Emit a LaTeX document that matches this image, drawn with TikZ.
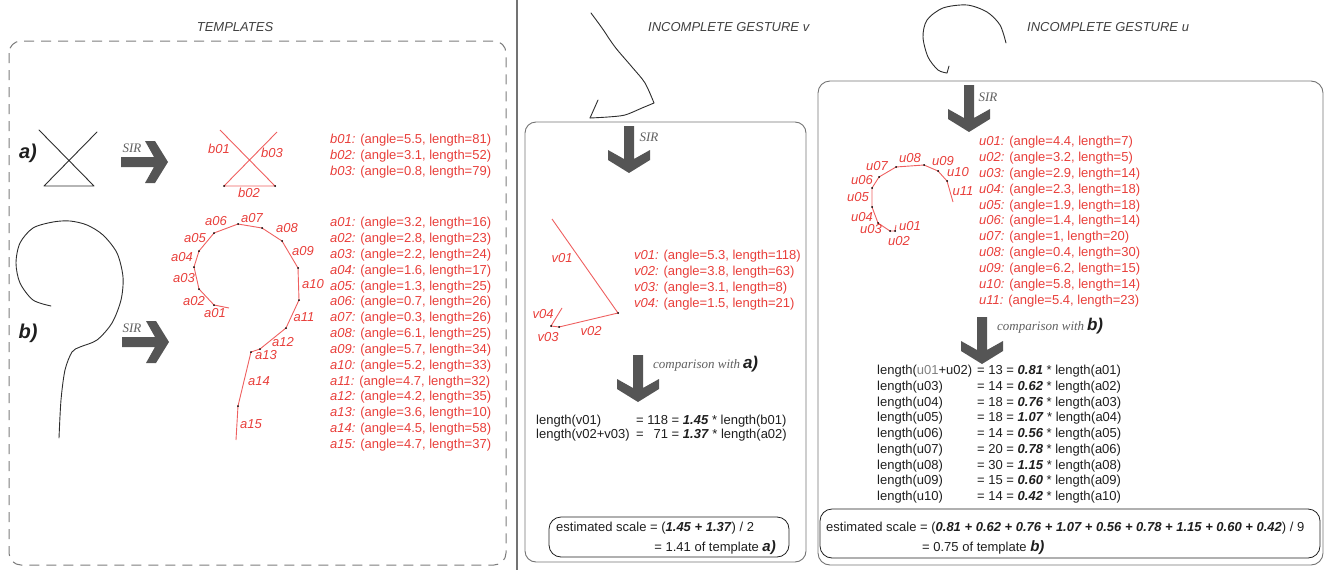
\documentclass[tikz,border=0pt]{standalone}
\usepackage{fontspec}
\setmainfont{Liberation Sans}
\newfontfamily\sirfont{Liberation Serif}
\usepackage{tikz}

\definecolor{segred}{RGB}{232,62,58}
\definecolor{seglinered}{RGB}{238,95,95}
\definecolor{pengray}{RGB}{45,45,45}
\definecolor{arrowgray}{RGB}{85,85,85}
\definecolor{framegray}{RGB}{115,115,115}
\definecolor{dashgray}{RGB}{125,125,125}
\definecolor{txtblack}{RGB}{30,30,30}
\definecolor{sirgray}{RGB}{95,95,95}

\newcommand{\infofont}{\fontsize{13}{15.85}\selectfont}
\newcommand{\bi}[1]{\textbf{\textit{#1}}}
\newcommand{\tmpl}[2]{{\fontsize{#2}{#2}\selectfont\bfseries\itshape #1}}

\tikzset{
  pen/.style={draw=pengray, line width=0.9pt, line cap=round, line join=round},
  segline/.style={draw=seglinered, line width=0.9pt},
  seglbl/.style={text=segred, font=\infofont\itshape, inner sep=0pt},
  info/.style={text=segred, font=\infofont, inner sep=0pt, anchor=base west},
  calcline/.style={text=txtblack, font=\infofont, inner sep=0pt, anchor=base west},
  headline/.style={text=txtblack!85, font=\infofont\itshape, inner sep=0pt},
  sir/.style={text=sirgray, font=\fontsize{13}{13}\selectfont\sirfont\itshape, inner sep=0pt},
  fatarrow/.pic={\fill[arrowgray] (-47,-5) -- (-14,-5) -- (-23,-21) -- (-13,-21) -- (0,0)
    -- (-13,21) -- (-23,21) -- (-14,5) -- (-47,5) -- cycle;},
}

\begin{document}
\begin{tikzpicture}[x=1pt, y=-1pt]
  \useasboundingbox (0,0) rectangle (1328,570);

  % Frames
  \draw[dashgray, line width=1pt, dash pattern=on 10pt off 7pt, rounded corners=12pt]
    (9,41) rectangle (506,565);
  \draw[framegray, line width=1.2pt] (517,0) -- (517,570);
  \draw[framegray, line width=0.9pt, rounded corners=11pt] (525,122) rectangle (806,562);
  \draw[framegray, line width=0.9pt, rounded corners=12pt] (818,81) rectangle (1323,565);

  % Headings
  \node[headline] (templates) at (235,27) {TEMPLATES};
  \node[headline, anchor=west] (titlev) at (648,27) {INCOMPLETE GESTURE v};
  \node[headline, anchor=west] (titleu) at (1027,27) {INCOMPLETE GESTURE u};
  \node[text=txtblack, inner sep=0pt] (taga) at (28,153) {\tmpl{a)}{20}};
  \node[text=txtblack, inner sep=0pt] (tagb) at (28,333) {\tmpl{b)}{20}};

  % Template a
  \draw[pen] (39,130) -- (94,186) -- (44,186) -- (97,132);
  \pic at (168,162) {fatarrow};
  \node[sir] (sira) at (132,148) {SIR};
  \draw[segline] (220,130) -- (275,186) -- (224,186) -- (277,132);
  \fill (224,186) circle (1pt);
  \fill (275,186) circle (1pt);
  \node[seglbl] (b01) at (219,149) {b01};
  \node[seglbl] (b03) at (272,153) {b03};
  \node[seglbl] (b02) at (249,193) {b02};
  \node[info] (blist) at (330,143.6) {\begin{tabular}[t]{@{}l@{}}
    \textit{b01:} (angle=5.5, length=81)\\
    \textit{b02:} (angle=3.1, length=52)\\
    \textit{b03:} (angle=0.8, length=79)
  \end{tabular}};

  % Template b
  \draw[pen] plot[smooth] coordinates {(51,306) (33,300) (20,283) (16,263) (20,243) (33,228)
    (53,222) (70,221) (87,225) (103,235) (117,253) (123,277) (121,300) (112,323) (97,340)
    (80,347) (72,352) (65,370) (61,400) (59,438)};
  \pic at (169,342) {fatarrow};
  \node[sir] (sirb) at (132,328) {SIR};
  \draw[segline] (229,308) -- (214,305) -- (199,289) -- (194,267) -- (199,251) -- (214,233)
    -- (238,224) -- (262,228) -- (282,241) -- (298,268) -- (299,300) -- (286,328) -- (260,349)
    -- (251,352) -- (238,406) -- (236,440);
  \foreach \x/\y in {214/305, 199/289, 194/267, 199/251, 214/233, 238/224, 262/228, 282/241,
    298/268, 299/300, 286/328, 260/349, 251/352, 238/406}
    \fill (\x,\y) circle (1pt);
  \foreach \n/\x/\y in {a01/215/313, a02/194/301, a03/184/278, a04/182/257, a05/195/238,
    a06/216/221, a07/252/218, a08/287/228, a09/303/251, a10/313/284, a11/304/317,
    a12/283/342, a13/266/355, a14/259/381, a15/251/424}
    \node[seglbl] (\n) at (\x,\y) {\n};
  \node[info] (alist) at (330,226.6) {\begin{tabular}[t]{@{}l@{}}
    \textit{a01:} (angle=3.2, length=16)\\
    \textit{a02:} (angle=2.8, length=23)\\
    \textit{a03:} (angle=2.2, length=24)\\
    \textit{a04:} (angle=1.6, length=17)\\
    \textit{a05:} (angle=1.3, length=25)\\
    \textit{a06:} (angle=0.7, length=26)\\
    \textit{a07:} (angle=0.3, length=26)\\
    \textit{a08:} (angle=6.1, length=25)\\
    \textit{a09:} (angle=5.7, length=34)\\
    \textit{a10:} (angle=5.2, length=33)\\
    \textit{a11:} (angle=4.7, length=32)\\
    \textit{a12:} (angle=4.2, length=35)\\
    \textit{a13:} (angle=3.6, length=10)\\
    \textit{a14:} (angle=4.5, length=58)\\
    \textit{a15:} (angle=4.7, length=37)
  \end{tabular}};

  % Incomplete gesture v
  \draw[pen] plot[smooth] coordinates {(591,13) (602,28) (615,47) (632,67) (645,83) (654,103)};
  \draw[pen] plot[smooth] coordinates {(654,103) (642,108) (625,115) (608,117) (590,118)};
  \draw[pen] (590,118) -- (598,100);
  \pic[rotate=-90] at (629,173) {fatarrow};
  \node[sir] (sirv) at (649,137) {SIR};
  \draw[segline] (552,219) -- (618,313) -- (559,327) -- (551,326) -- (562,308);
  \foreach \x/\y in {618/313, 559/327, 551/326}
    \fill (\x,\y) circle (1pt);
  \foreach \n/\x/\y in {v01/562/258, v02/591/331, v03/548/337, v04/543/314}
    \node[seglbl] (\n) at (\x,\y) {\n};
  \node[info] (vlist) at (634,259.6) {\begin{tabular}[t]{@{}l@{}}
    \textit{v01:} (angle=5.3, length=118)\\
    \textit{v02:} (angle=3.8, length=63)\\
    \textit{v03:} (angle=3.1, length=8)\\
    \textit{v04:} (angle=1.5, length=21)
  \end{tabular}};
  \pic[rotate=-90] at (638,402) {fatarrow};
  \node[anchor=base west, inner sep=0pt] (compa) at (653,368.5)
    {\textcolor{sirgray}{\fontsize{13}{13}\selectfont\sirfont\itshape comparison with} \textcolor{txtblack}{\tmpl{a)}{17}}};
  \node[calcline, font=\fontsize{13}{14}\selectfont] (vcalc) at (536,424)
    {\begin{tabular}[t]{@{}p{100pt}@{}l@{\ }r@{\ }l@{}}
    length(v01) & = & 118 & = \bi{1.45} * length(b01)\\
    length(v02+v03) & = & 71 & = \bi{1.37} * length(a02)
  \end{tabular}};
  \draw[txtblack, line width=0.8pt, rounded corners=12pt] (549,517) rectangle (789,557);
  \node[calcline] (vest) at (556,531.6) {estimated scale = (\bi{1.45 + 1.37}) / 2};
  \node[calcline, anchor=base east] (vres) at (776,551.6) {= 1.41 of template \tmpl{a)}{15}};

  % Incomplete gesture u
  \draw[pen] plot[smooth] coordinates {(1006,43) (1000,25) (987,12) (967,5) (943,8) (927,20)
    (923,37) (928,57) (938,70) (947,73)};
  \draw[pen] (947,73) -- (949,66);
  \pic[rotate=-90] at (969,132) {fatarrow};
  \node[sir] (siru) at (988,97) {SIR};
  \draw[segline] (896,225) -- (895,231) -- (890,231) -- (878,223) -- (872,207) -- (872,188)
    -- (879,177) -- (896,167) -- (924,165) -- (938,171) -- (947,181) -- (953,202);
  \foreach \x/\y in {895/231, 890/231, 878/223, 872/207, 872/188, 879/177, 896/167, 924/165,
    938/171, 947/181}
    \fill (\x,\y) circle (1pt);
  \foreach \n/\x/\y in {u01/910/226, u02/899/241, u03/871/229, u04/862/217, u05/858/197,
    u06/862/180, u07/877/166, u08/910/158, u09/943/161, u10/958/172, u11/963/191}
    \node[seglbl] (\n) at (\x,\y) {\n};
  \node[info] (ulist) at (979,145.6) {\begin{tabular}[t]{@{}l@{}}
    \textit{u01:} (angle=4.4, length=7)\\
    \textit{u02:} (angle=3.2, length=5)\\
    \textit{u03:} (angle=2.9, length=14)\\
    \textit{u04:} (angle=2.3, length=18)\\
    \textit{u05:} (angle=1.9, length=18)\\
    \textit{u06:} (angle=1.4, length=14)\\
    \textit{u07:} (angle=1, length=20)\\
    \textit{u08:} (angle=0.4, length=30)\\
    \textit{u09:} (angle=6.2, length=15)\\
    \textit{u10:} (angle=5.8, length=14)\\
    \textit{u11:} (angle=5.4, length=23)
  \end{tabular}};
  \pic[rotate=-90] at (982,364) {fatarrow};
  \node[anchor=base west, inner sep=0pt] (compb) at (997,330.5)
    {\textcolor{sirgray}{\fontsize{13}{13}\selectfont\sirfont\itshape comparison with} \textcolor{txtblack}{\tmpl{b)}{17}}};
  \node[calcline, font=\fontsize{13}{15.75}\selectfont] (ucalc) at (877,374.6)
    {\begin{tabular}[t]{@{}p{100pt}@{}l@{}}
    length(\textcolor{gray}{u01}+u02) & = 13 = \bi{0.81} * length(a01)\\
    length(u03) & = 14 = \bi{0.62} * length(a02)\\
    length(u04) & = 18 = \bi{0.76} * length(a03)\\
    length(u05) & = 18 = \bi{1.07} * length(a04)\\
    length(u06) & = 14 = \bi{0.56} * length(a05)\\
    length(u07) & = 20 = \bi{0.78} * length(a06)\\
    length(u08) & = 30 = \bi{1.15} * length(a08)\\
    length(u09) & = 15 = \bi{0.60} * length(a09)\\
    length(u10) & = 14 = \bi{0.42} * length(a10)
  \end{tabular}};
  \draw[txtblack, line width=0.8pt, rounded corners=12pt] (820,509) rectangle (1320,558);
  \node[calcline] (uest) at (826,531.6)
    {estimated scale = (\bi{0.81 + 0.62 + 0.76 + 1.07 + 0.56 + 0.78 + 1.15 + 0.60 + 0.42}) / 9};
  \node[calcline] (ures) at (922,551.6) {= 0.75 of template \tmpl{b)}{15}};
\end{tikzpicture}
\end{document}
